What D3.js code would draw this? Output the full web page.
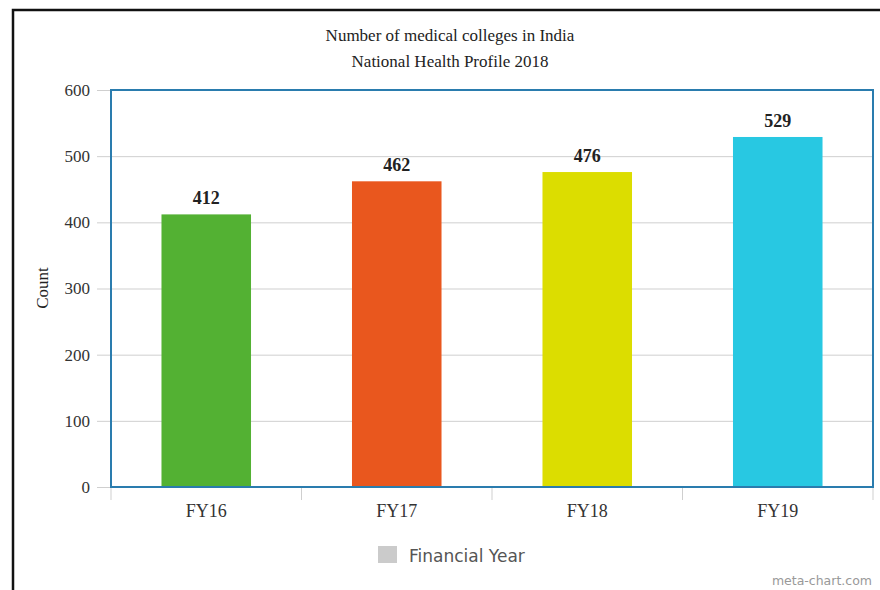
<!DOCTYPE html>
<html>
<head>
<meta charset="utf-8">
<script src="https://cdn.jsdelivr.net/npm/d3@7"></script>
<style>
  body { margin: 0; background: #fff; }
  svg { display: block; }
</style>
</head>
<body>
<svg id="chart"></svg>
<script>
const W = 880, H = 590;
const margin = { top: 90, right: 7, bottom: 103, left: 111 };
const w = W - margin.left - margin.right, h = H - margin.top - margin.bottom;

const years = ["FY16", "FY17", "FY18", "FY19"];
const counts = [412, 462, 476, 529];
const barColors = ["#53b133", "#e9571e", "#dcdd00", "#28c8e2"];
const yTicks = [0, 100, 200, 300, 400, 500, 600];

const data = years.map((y, i) => ({ year: y, count: counts[i], color: barColors[i] }));
const serif = "'Liberation Serif', 'Times New Roman', serif";

const svg = d3.select("#chart").attr("width", W).attr("height", H);

// outer frame of the screenshot
svg.append("path")
    .attr("d", `M13,${H} L13,10 L${W},10`)
    .attr("fill", "none").attr("stroke", "#111").attr("stroke-width", 2.5);

const g = svg.append("g").attr("transform", `translate(${margin.left},${margin.top})`);

const x = d3.scaleBand().domain(years).range([0, w]).paddingInner(0.53).paddingOuter(0.265);
const y = d3.scaleLinear().domain([0, 600]).range([h, 0]);

// gridlines + y ticks
g.append("g")
    .attr("transform", "translate(-14,0)")
    .call(d3.axisLeft(y).tickValues(yTicks).tickSize(0).tickPadding(8).tickFormat(d3.format("d")))
    .call(a => a.select(".domain").remove())
    .call(a => a.selectAll("line").attr("stroke", "#cfcfcf").attr("x2", w + 14))
    .call(a => a.selectAll("text").attr("font-family", serif).attr("font-size", 17).attr("fill", "#333").attr("x", -7));

// x tick marks at band boundaries
const edges = years.map(d => x(d) - (x.step() - x.bandwidth()) / 2).concat([w]);
g.selectAll(".xtick").data(edges).enter().append("line")
    .attr("x1", d => d).attr("x2", d => d)
    .attr("y1", h).attr("y2", h + 13)
    .attr("stroke", "#cfcfcf");

// bars
g.selectAll(".bar").data(data).enter().append("rect")
    .attr("x", d => x(d.year)).attr("width", x.bandwidth())
    .attr("y", d => y(d.count)).attr("height", d => h - y(d.count))
    .attr("fill", d => d.color);

// value labels
g.selectAll(".val").data(data).enter().append("text")
    .attr("x", d => x(d.year) + x.bandwidth() / 2)
    .attr("y", d => y(d.count) - 10)
    .attr("text-anchor", "middle")
    .attr("font-family", serif).attr("font-weight", "bold").attr("font-size", 18)
    .attr("fill", "#222")
    .text(d => d.count);

// plot frame
g.append("rect").attr("width", w).attr("height", h)
    .attr("fill", "none").attr("stroke", "#2a7cae").attr("stroke-width", 2);

// x labels
g.selectAll(".xl").data(years).enter().append("text")
    .attr("x", d => x(d) + x.bandwidth() / 2).attr("y", h + 30)
    .attr("text-anchor", "middle")
    .attr("font-family", serif).attr("font-size", 18).attr("fill", "#333")
    .text(d => d);

// y label
svg.append("text")
    .attr("transform", "translate(48,288) rotate(-90)")
    .attr("text-anchor", "middle")
    .attr("font-family", serif).attr("font-size", 17).attr("fill", "#222")
    .text("Count");

// titles
svg.append("text").attr("x", 450).attr("y", 41).attr("text-anchor", "middle")
    .attr("font-family", serif).attr("font-size", 17).attr("fill", "#222")
    .text("Number of medical colleges in India");
svg.append("text").attr("x", 450).attr("y", 67).attr("text-anchor", "middle")
    .attr("font-family", serif).attr("font-size", 17).attr("fill", "#222")
    .text("National Health Profile 2018");

// legend
svg.append("rect").attr("x", 378).attr("y", 546).attr("width", 19).attr("height", 17).attr("fill", "#cbcbcb");
svg.append("text").attr("x", 409).attr("y", 562)
    .attr("font-family", "'DejaVu Sans', sans-serif").attr("font-size", 17).attr("fill", "#555")
    .text("Financial Year");

svg.append("text").attr("x", 872).attr("y", 585).attr("text-anchor", "end")
    .attr("font-family", "'DejaVu Sans', sans-serif").attr("font-size", 12.5).attr("fill", "#999")
    .text("meta-chart.com");
</script>
</body>
</html>
